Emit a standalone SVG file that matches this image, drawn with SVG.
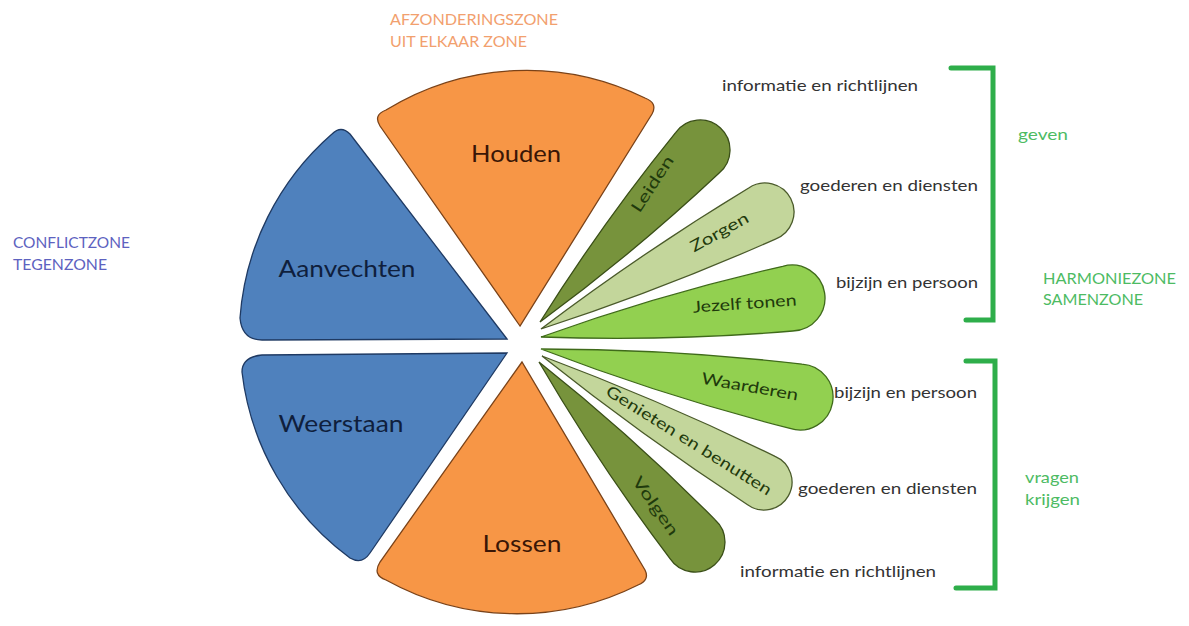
<svg xmlns="http://www.w3.org/2000/svg" width="1189" height="626" viewBox="0 0 1189 626">
<style>
text{font-family:Lato,"Open Sans","Liberation Sans",sans-serif}
.big{font-size:23px;text-anchor:middle}
.pt{font-size:16px;text-anchor:middle;fill:#1f3a0c}
.desc{font-size:16px;fill:#333333}
.zone{font-size:15px}
.org{fill:#f79646;stroke:#7a4218;stroke-width:1.3}
.blu{fill:#4f81bd;stroke:#1f3a63;stroke-width:1.3}
.dg{fill:#77933c;stroke:#3a4f17;stroke-width:1.3}
.lg{fill:#c3d69b;stroke:#4a5a2a;stroke-width:1.3}
.bg{fill:#92d050;stroke:#3f6a1a;stroke-width:1.3}
.br{fill:none;stroke:#2eae4a;stroke-width:5;stroke-linecap:round;stroke-linejoin:miter}
</style>
<rect width="1189" height="626" fill="#ffffff"/>

<g id="houden">
<path class="org" d="M520,326 L380,126 Q373,115 386,110 A268,268 0 0 1 645,98 Q658,103 652,114 Z"/>
<text class="big" x="516" y="162" textLength="90" lengthAdjust="spacingAndGlyphs" fill="#3a1606">Houden</text>
</g>
<g id="aanvechten">
<path class="blu" d="M507,339 L350,134 Q341,125 332,134 A270,270 0 0 0 240,318 Q242,340 262,340 Z"/>
<text class="big" x="347" y="277" textLength="137" lengthAdjust="spacingAndGlyphs" fill="#0f1f3d">Aanvechten</text>
</g>
<g id="weerstaan">
<path class="blu" d="M507,353 L262,355 Q242,357 242,372 A270,270 0 0 0 350,558 Q362,565 370,553 Z"/>
<text class="big" x="341" y="432" textLength="125" lengthAdjust="spacingAndGlyphs" fill="#0f1f3d">Weerstaan</text>
</g>
<g id="lossen">
<path class="org" d="M522,362 L380,562 Q372,575 386,580 A270,270 0 0 0 638,585 Q650,580 645,570 Z"/>
<text class="big" x="522" y="552" textLength="79" lengthAdjust="spacingAndGlyphs" fill="#3a1606">Lossen</text>
</g>

<g id="leiden">
<path class="dg" transform="translate(540,322) rotate(-47.07)" d="M0,0 Q116,-22 231.07,-29.75 A30,30 0 1 1 231.07,29.75 Q116,22 0,0 Z"/>
<text class="pt" transform="translate(657,187) rotate(-57)" textLength="64" lengthAdjust="spacingAndGlyphs">Leiden</text>
</g>
<g id="zorgen">
<path class="lg" transform="translate(541,329) rotate(-27.58)" d="M0,0 Q125,-21 249.4,-28.81 A29,29 0 1 1 249.4,28.81 Q125,21 0,0 Z"/>
<text class="pt" transform="translate(722,237) rotate(-29)" textLength="64" lengthAdjust="spacingAndGlyphs">Zorgen</text>
</g>
<g id="jezelf">
<path class="bg" transform="translate(541,337) rotate(-8.83)" d="M0,0 Q125,-24 249.7,-32.72 A33,33 0 1 1 249.7,32.72 Q125,24 0,0 Z"/>
<text class="pt" transform="translate(745,309) rotate(-4)" textLength="104" lengthAdjust="spacingAndGlyphs">Jezelf tonen</text>
</g>
<g id="waarderen">
<path class="bg" transform="translate(541,349) rotate(10.5)" d="M0,0 Q130,-24 259.3,-32.74 A33,33 0 1 1 259.3,32.74 Q130,24 0,0 Z"/>
<text class="pt" transform="translate(749,392) rotate(10)" textLength="98" lengthAdjust="spacingAndGlyphs">Waarderen</text>
</g>
<g id="genieten">
<path class="lg" transform="translate(542,356) rotate(29.58)" d="M0,0 Q126,-20 252.2,-27.83 A28,28 0 1 1 252.2,27.83 Q126,20 0,0 Z"/>
<text class="pt" transform="translate(686,445) rotate(32)" textLength="192" lengthAdjust="spacingAndGlyphs">Genieten en benutten</text>
</g>
<g id="volgen">
<path class="dg" transform="translate(539,362) rotate(49.09)" d="M0,0 Q117,-22 234.4,-29.76 A30,30 0 1 1 234.4,29.76 Q117,22 0,0 Z"/>
<text class="pt" transform="translate(651,509) rotate(55)" textLength="68" lengthAdjust="spacingAndGlyphs">Volgen</text>
</g>

<g id="zone-labels">
<text class="zone" x="390" y="25" textLength="168" lengthAdjust="spacingAndGlyphs" fill="#f2a06e">AFZONDERINGSZONE</text>
<text class="zone" x="390" y="47" textLength="137" lengthAdjust="spacingAndGlyphs" fill="#f2a06e">UIT ELKAAR ZONE</text>
<text class="zone" x="13" y="248" textLength="117" lengthAdjust="spacingAndGlyphs" fill="#5d62c0">CONFLICTZONE</text>
<text class="zone" x="13" y="270" textLength="94" lengthAdjust="spacingAndGlyphs" fill="#5d62c0">TEGENZONE</text>
<text class="zone" x="1043" y="284" textLength="133" lengthAdjust="spacingAndGlyphs" fill="#4dbb63">HARMONIEZONE</text>
<text class="zone" x="1043" y="305" textLength="100" lengthAdjust="spacingAndGlyphs" fill="#4dbb63">SAMENZONE</text>
<text class="zone" x="1018" y="140" textLength="50" lengthAdjust="spacingAndGlyphs" fill="#4dbb63">geven</text>
<text class="zone" x="1025" y="483" textLength="54" lengthAdjust="spacingAndGlyphs" fill="#4dbb63">vragen</text>
<text class="zone" x="1025" y="505" textLength="55" lengthAdjust="spacingAndGlyphs" fill="#4dbb63">krijgen</text>
</g>

<g id="descriptions">
<text class="desc" x="722" y="91" textLength="196" lengthAdjust="spacingAndGlyphs">informatie en richtlijnen</text>
<text class="desc" x="800" y="191" textLength="178" lengthAdjust="spacingAndGlyphs">goederen en diensten</text>
<text class="desc" x="836" y="288" textLength="142" lengthAdjust="spacingAndGlyphs">bijzijn en persoon</text>
<text class="desc" x="834" y="398" textLength="143" lengthAdjust="spacingAndGlyphs">bijzijn en persoon</text>
<text class="desc" x="798" y="494" textLength="179" lengthAdjust="spacingAndGlyphs">goederen en diensten</text>
<text class="desc" x="740" y="577" textLength="196" lengthAdjust="spacingAndGlyphs">informatie en richtlijnen</text>
</g>

<g id="connectors">
<path class="br" d="M951,68 L993,68 L993,320 L966,320"/>
<path class="br" d="M966,361 L995,361 L995,588 L956,588"/>
</g>
</svg>
